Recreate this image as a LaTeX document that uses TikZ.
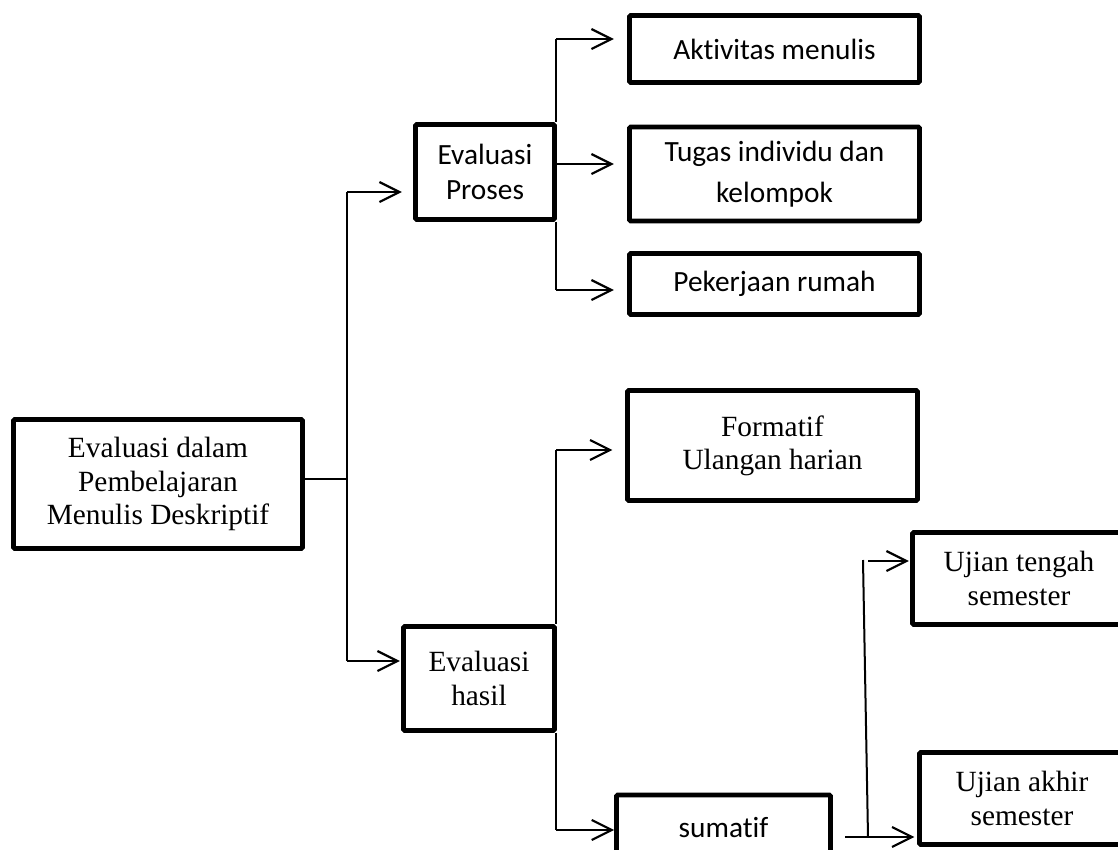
\documentclass[tikz,border=0pt]{standalone}
\usepackage{fontspec}
\setmainfont[Ligatures=NoCommon]{Liberation Serif}
\newfontfamily\calfont[Ligatures=NoCommon]{Carlito}
\usetikzlibrary{arrows.meta}

\begin{document}
\begin{tikzpicture}[x=0.75pt,y=-0.75pt,
  box/.style={draw, line width=3.6pt, rounded corners=1pt, align=center, inner sep=0pt},
  sz/.style 2 args={minimum width=#1*0.75, minimum height=#2*0.75},
  serifbox/.style={box, font=\fontsize{22}{25}\selectfont},
  sansbox/.style={box, font=\calfont\fontsize{22}{26}\selectfont},
  link/.style={line width=1.5pt},
  arr/.style={link, -{Straight Barb[length=15pt, width=15pt, line width=1.6pt]}},
]
\useasboundingbox (0,0) rectangle (1118,850);
\clip (0,0) rectangle (1118,850);

% boxes
\node[serifbox, sz={289}{129}] (main) at (158,484)
  {Evaluasi dalam\\Pembelajaran\\Menulis Deskriptif};
\node[sansbox, sz={139}{95}] (ep) at (485,172) {Evaluasi\\Proses};
\node[sansbox, sz={290}{67}] (akt) at (774.5,49) {Aktivitas menulis};
\node[sansbox, sz={290}{94}, font=\calfont\fontsize{22}{31}\selectfont] (tug) at (774.5,174)
  {Tugas individu dan\\kelompok};
\node[sansbox, sz={290}{61}] (pek) at (774.5,284) {Pekerjaan rumah};
\node[serifbox, sz={151}{104}] (eh) at (479,678.5) {Evaluasi\\hasil};
\node[serifbox, sz={290}{110}] (form) at (772.5,445.5) {Formatif\\Ulangan harian};
\node[sansbox, sz={214}{66}] (sum) at (723.5,828) {sumatif};
\node[serifbox, sz={213}{92}] (ut) at (1019,578.5) {Ujian tengah\\semester};
\node[serifbox, sz={205}{92}] (ua) at (1022,798.5) {Ujian akhir\\semester};

% junction points of the connectors
\coordinate (ta) at (347,192);
\coordinate (tb) at (347,661);
\coordinate (pa) at (556,39);
\coordinate (pb) at (556,290);
\coordinate (pc) at (557,164);
\coordinate (ha) at (556,450);
\coordinate (hb) at (556,830);
\coordinate (sa) at (863,560);
\coordinate (sc) at (868,561);
\coordinate (sb) at (868,837);
\coordinate (sd) at (845,837);

% root to the two evaluation kinds
\draw[link] (main.east |- 0,479) -- (ta |- 0,479);
\draw[link] (ta) -- (tb);
\draw[arr, shorten >=8.5pt] (ta) -- (ta -| ep.west);
\draw[arr, shorten >=1pt] (tb) -- (tb -| eh.west);

% process evaluation
\draw[link] (pa) -- (pa |- ep.north);
\draw[link] (pb |- ep.south) -- (pb);
\draw[arr, shorten >=10pt] (pa) -- (pa -| akt.west);
\draw[arr, shorten >=10pt] (pc) -- (pc -| tug.west);
\draw[arr, shorten >=10pt] (pb) -- (pb -| pek.west);

% result evaluation
\draw[link] (ha) -- (ha |- eh.north);
\draw[link] (hb |- eh.south) -- (hb);
\draw[arr, shorten >=9.5pt] (ha) -- (ha -| form.west);
\draw[arr] (hb) -- (hb -| sum.west);

% summative tests
\draw[link] (sd) -- (sb);
\draw[link] (sa) -- (sb);
\draw[arr, shorten >=1pt] (sc) -- (sc -| ut.west);
\draw[arr, shorten >=2pt] (sb) -- (sb -| ua.west);
\end{tikzpicture}
\end{document}
